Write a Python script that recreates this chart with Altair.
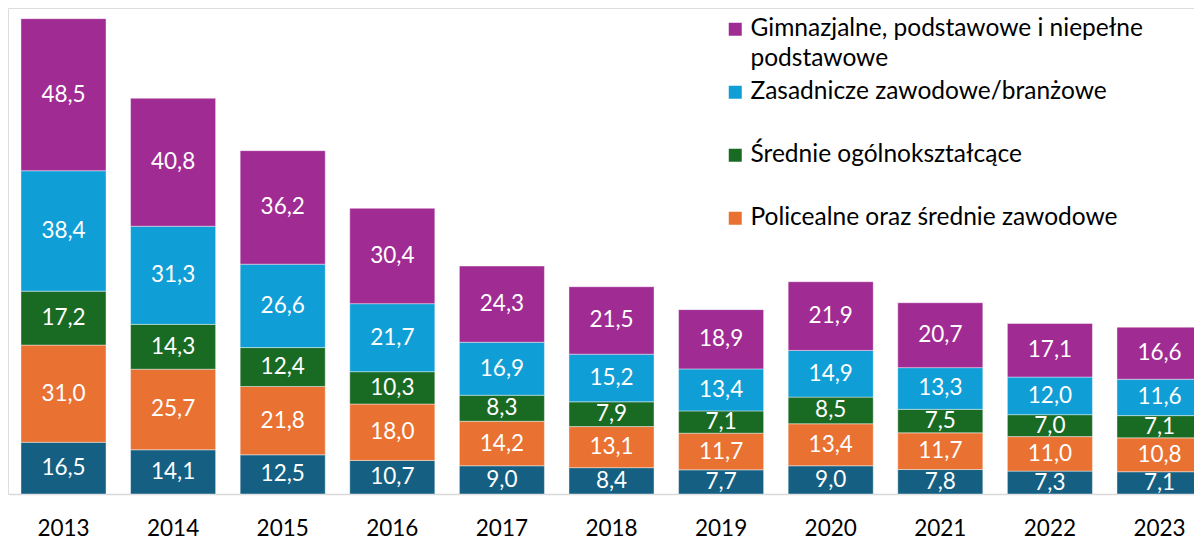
import altair as alt
import pandas as pd

years = [str(y) for y in range(2013, 2024)]

cat_names = [
    "Wyższe",
    "Policealne oraz średnie zawodowe",
    "Średnie ogólnokształcące",
    "Zasadnicze zawodowe/branżowe",
    "Gimnazjalne, podstawowe i niepełne podstawowe",
]
wyzsze = [16.5, 14.1, 12.5, 10.7, 9.0, 8.4, 7.7, 9.0, 7.8, 7.3, 7.1]
policealne = [31.0, 25.7, 21.8, 18.0, 14.2, 13.1, 11.7, 13.4, 11.7, 11.0, 10.8]
srednie_ogolne = [17.2, 14.3, 12.4, 10.3, 8.3, 7.9, 7.1, 8.5, 7.5, 7.0, 7.1]
zasadnicze = [38.4, 31.3, 26.6, 21.7, 16.9, 15.2, 13.4, 14.9, 13.3, 12.0, 11.6]
gimnazjalne = [48.5, 40.8, 36.2, 30.4, 24.3, 21.5, 18.9, 21.9, 20.7, 17.1, 16.6]

series = [wyzsze, policealne, srednie_ogolne, zasadnicze, gimnazjalne]
colors = ["#156082", "#E97132", "#196B24", "#0F9ED5", "#A02B93"]
legend_values = [cat_names[4], cat_names[3], cat_names[2], cat_names[1]]

rows = []
for i, yr in enumerate(years):
    for k, (name, vals) in enumerate(zip(cat_names, series)):
        rows.append({"year": yr, "cat": name, "order": k, "value": vals[i]})
df = pd.DataFrame(rows)

FONT = "Lato"

base = alt.Chart(df).transform_stack(
    stack="value",
    groupby=["year"],
    sort=[alt.SortField(field="order", order="ascending")],
    as_=["y0", "y1"],
).transform_calculate(
    mid="(datum.y0 + datum.y1) / 2",
    label="replace(format(datum.value, '.1f'), '.', ',')",
)

x = alt.X(
    "year:N",
    title=None,
    scale=alt.Scale(paddingInner=0.224, paddingOuter=0.112, range=[0.7, 1206.3]),
    axis=alt.Axis(
        labelFont=FONT,
        labelFontSize=22.5,
        labelColor="#000000",
        labelAngle=0,
        labelPadding=23,
        ticks=False,
        domainColor="#d9d9d9",
        domainWidth=1.5,
        grid=False,
    ),
)
yscale = alt.Scale(domain=[0, 155], nice=False)

label_expr = (
    "datum.label == 'Gimnazjalne, podstawowe i niepełne podstawowe' "
    "? ['Gimnazjalne, podstawowe i niepełne', 'podstawowe'] : datum.label"
)

bars = base.mark_bar(stroke="#ffffff", strokeWidth=0.7, strokeOpacity=0.6).encode(
    x=x,
    y=alt.Y("y0:Q", scale=yscale, axis=None),
    y2="y1:Q",
    color=alt.Color(
        "cat:N",
        scale=alt.Scale(domain=cat_names, range=colors),
        legend=alt.Legend(
            values=legend_values,
            title=None,
            orient="none",
            legendX=715,
            legendY=9,
            direction="vertical",
            symbolType="square",
            symbolSize=169,
            symbolStrokeWidth=0,
            labelFont=FONT,
            labelFontSize=24.5,
            labelColor="#000000",
            labelLimit=700,
            labelOffset=3,
            labelExpr=label_expr,
            gridAlign="all",
            rowPadding=8,
            padding=0,
        ),
    ),
    order=alt.Order("order:Q"),
)

text = base.mark_text(color="#ffffff", font=FONT, fontSize=22.5).encode(
    x=x,
    y=alt.Y("mid:Q", scale=yscale, axis=None),
    text="label:N",
)

chart = (
    alt.layer(bars, text)
    .properties(
        width=1186,
        height=486,
        padding={"left": 0, "top": 0, "right": 0, "bottom": 46},
        autosize=alt.AutoSizeParams(type="none"),
    )
    .configure_view(stroke=None)
    .configure(style={"guide-label": {"lineHeight": 30}})
)

chart.save("out.html", embed_options={"renderer": "svg", "actions": False})
